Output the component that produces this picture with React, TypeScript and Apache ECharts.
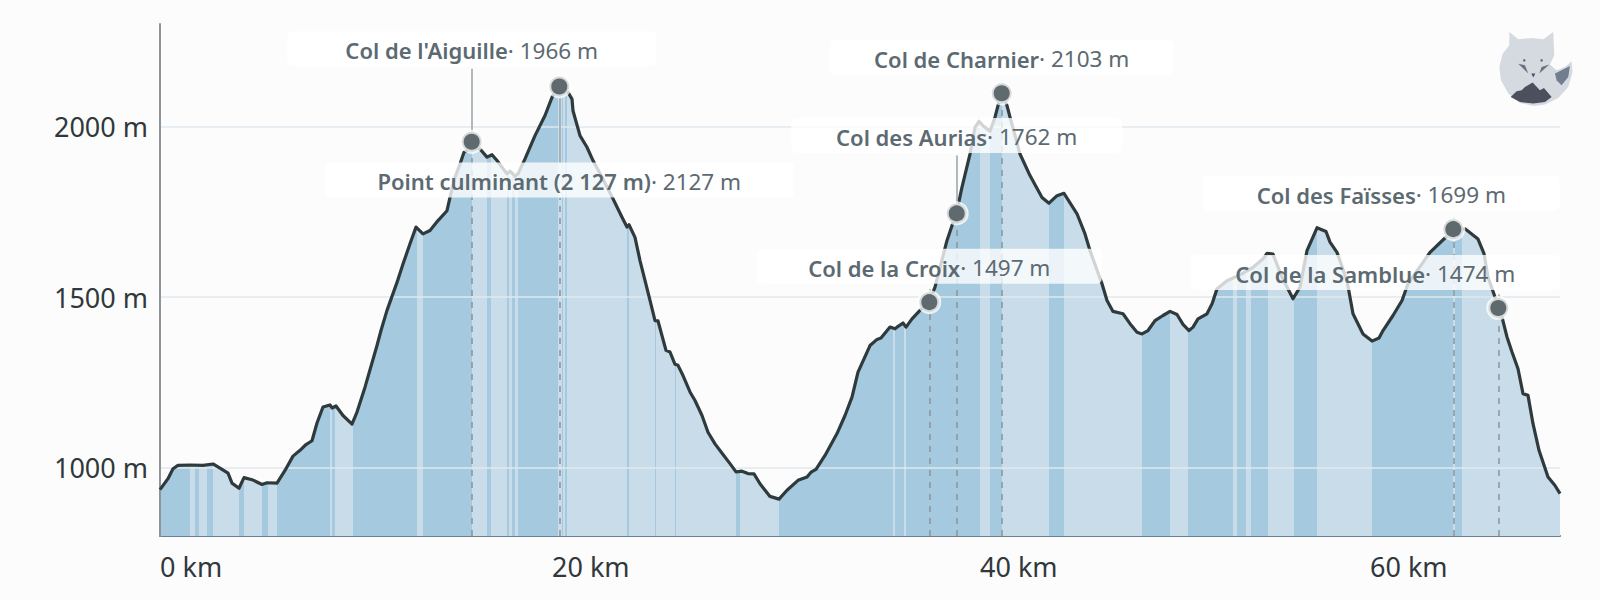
import React, { useEffect, useRef } from 'react';
import * as echarts from 'echarts';

// position along the profile (axis runs 0 - 1400, the km labels are not evenly spaced)
const trackPos = [
  0, 8, 13, 18, 30, 43, 53, 62, 68, 72, 79, 84, 92, 102, 107, 117, 125, 133, 140, 146,
  152, 157, 163, 170, 172, 176, 183, 192, 197, 205, 217, 221, 227, 237, 243, 250, 256, 263, 270, 278,
  287, 290, 295, 300, 304, 312, 320, 327, 332, 337, 347, 350, 355, 358, 365, 375, 385, 392, 399, 408,
  412, 413, 420, 427, 433, 442, 453, 462, 467, 469, 475, 480, 490, 495, 498, 506, 510, 515, 518, 523,
  530, 535, 542, 548, 555, 563, 570, 576, 582, 588, 594, 600, 610, 619, 627, 638, 647, 651, 656, 665,
  677, 685, 692, 698, 710, 717, 721, 730, 735, 737, 743, 746, 752, 760, 769, 775, 787, 797, 802, 810,
  815, 819, 823, 830, 835, 838, 842, 847, 850, 860, 870, 882, 889, 897, 904, 917, 925, 930, 942, 947,
  953, 963, 970, 977, 982, 988, 995, 1003, 1010, 1017, 1023, 1029, 1033, 1038, 1047, 1052, 1057, 1067, 1080, 1093,
  1103, 1107, 1113, 1122, 1133, 1140, 1147, 1157, 1166, 1170, 1177, 1187, 1193, 1203, 1212, 1219, 1223, 1233, 1242, 1248,
  1270, 1285, 1293, 1305, 1318, 1324, 1328, 1335, 1338, 1342, 1347, 1352, 1358, 1363, 1368, 1373, 1379, 1388, 1395, 1400,
];
const elevation = [
  936, 968, 997, 1007, 1008, 1007, 1011, 995, 984, 955, 940, 971, 965, 951, 956, 955, 992, 1034, 1051, 1068,
  1079, 1131, 1178, 1184, 1175, 1181, 1153, 1128, 1163, 1236, 1358, 1402, 1461, 1543, 1597, 1656, 1705, 1685, 1695, 1724,
  1753, 1792, 1851, 1890, 1924, 1939, 1934, 1910, 1917, 1900, 1861, 1869, 1854, 1861, 1905, 1973, 2032, 2085, 2119, 2100,
  2080, 2046, 1973, 1939, 1900, 1851, 1788, 1734, 1705, 1712, 1675, 1607, 1490, 1431, 1430, 1344, 1339, 1303, 1300, 1270,
  1222, 1197, 1153, 1104, 1070, 1039, 1012, 988, 990, 983, 982, 953, 916, 908, 934, 963, 973, 987, 995, 1036,
  1100, 1153, 1207, 1280, 1358, 1376, 1380, 1412, 1407, 1412, 1424, 1412, 1436, 1461, 1485, 1529, 1666, 1753, 1822, 1919,
  1997, 2015, 2002, 1986, 2027, 2061, 2095, 2061, 2027, 1919, 1856, 1792, 1775, 1797, 1804, 1744, 1685, 1636, 1539, 1490,
  1458, 1451, 1422, 1397, 1392, 1402, 1431, 1446, 1458, 1449, 1420, 1402, 1412, 1436, 1451, 1480, 1524, 1548, 1565, 1587,
  1612, 1628, 1626, 1558, 1495, 1529, 1636, 1703, 1692, 1661, 1631, 1548, 1451, 1392, 1371, 1380, 1402, 1446, 1490, 1539,
  1631, 1673, 1695, 1700, 1670, 1627, 1558, 1500, 1469, 1441, 1383, 1339, 1290, 1217, 1212, 1129, 1051, 973, 948, 924,
];

// stretches of the track drawn in the darker blue
const climbBands = [
  [0, 30], [35, 39.3], [46.7, 52.7], [78.7, 83.7], [102, 108], [116.7, 170], [172.3, 175.3], [193.3, 257.3],
  [262.7, 311.7], [326.7, 331], [347.3, 349], [352, 355], [357.7, 398.3], [402.3, 403.3], [405, 406.7], [466.7, 469.3],
  [495, 495.7], [515.3, 516], [576, 580], [619.3, 733.3], [735, 744], [746, 820], [830, 841.7], [889.3, 904],
  [982, 1010], [1028.3, 1073.3], [1076.7, 1086], [1090.7, 1108], [1133.7, 1156.7], [1212.3, 1293.3], [1295, 1301.7],
];

const xTickPos = [0, 392, 820, 1210];
const xTickLabels = ['0 km', '20 km', '40 km', '60 km'];
const yTicks = [1000, 1500, 2000];

const passNames = ["Col de l'Aiguille", 'Point culminant (2 127 m)', 'Col de Charnier', 'Col des Aurias', 'Col de la Croix', 'Col des Faïsses', 'Col de la Samblue'];
const passAltitudes = [1966, 2127, 2103, 1762, 1497, 1699, 1474];
const passPos = [311.7, 399.3, 841.7, 796.7, 769.3, 1293.3, 1338.3];
const passDotElevation = [1955, 2117, 2097, 1745, 1485, 1699, 1468];
// leader above / beside each point: [from, to] in metres, solid when long
const passLeaders = [[1975, 2169], [1893, 2117], [2110, 2143], [1765, 1915], [1505, 1528], [1715, 1745], [1490, 1516]];
const passDashTop = [1955, 1790, 2097, 1745, 1485, 1699, 1468];
const passLeaderSolid = [true, true, false, true, false, false, false];

// label boxes: offset from the point, width
const passLabelOffsets = [[0, -93], [0, 93.5], [0, -36], [0, -78], [0, -36], [-72, -36], [-123, -35.5]];
const passLabelWidths = [369, 469, 344, 331, 345, 357, 370];

const App: React.FC = () => {
  const chartRef = useRef<HTMLDivElement>(null);

  useEffect(() => {
    if (!chartRef.current) return;

    const myChart = echarts.init(chartRef.current, undefined, { renderer: 'svg' });
    const font = '"Noto Sans", sans-serif';
    const points = trackPos.map((p, i) => [p, elevation[i]]);

    const leaderLines: any[] = [];
    passPos.forEach((p, i) => {
      leaderLines.push([
        { coord: [p, 800], lineStyle: { type: [6, 6], color: '#8a9499', width: 1.5 } },
        { coord: [p, passDashTop[i]] },
      ]);
      leaderLines.push([
        {
          coord: [p, passLeaders[i][0]],
          lineStyle: passLeaderSolid[i]
            ? { type: 'solid', color: '#9aa3a7', width: 1.5 }
            : { type: [6, 6], color: '#8a9499', width: 1.5 },
        },
        { coord: [p, passLeaders[i][1]] },
      ]);
    });

    const option: any = {
      animation: false,
      backgroundColor: '#fcfcfc',
      grid: { left: 160, right: 40, top: 24, bottom: 64 },
      xAxis: {
        type: 'value',
        min: 0,
        max: 1400,
        splitLine: { show: false },
        axisLine: { lineStyle: { color: '#6f7f8c', width: 2 } },
        axisTick: { show: false, customValues: xTickPos },
        axisLabel: {
          customValues: xTickPos,
          formatter: (v: number) => xTickLabels[xTickPos.indexOf(v)],
          align: 'left',
          margin: 17,
          fontSize: 27,
          fontFamily: font,
          color: '#30383b',
        },
      },
      yAxis: {
        type: 'value',
        min: 800,
        max: 2300,
        z: 4,
        axisLine: { show: true, lineStyle: { color: '#8e9598', width: 2 } },
        axisTick: { show: false, customValues: yTicks },
        splitLine: { show: true, lineStyle: { color: '#e0e8ee', width: 1.5 } },
        axisLabel: {
          customValues: yTicks,
          formatter: (v: number) => `${v} m`,
          margin: 12,
          fontSize: 27,
          fontFamily: font,
          color: '#30383b',
        },
      },
      visualMap: {
        show: false,
        type: 'piecewise',
        dimension: 0,
        seriesIndex: 0,
        pieces: climbBands.map(([from, to]) => ({ gt: from, lte: to, color: '#a5c9de' })),
        outOfRange: { color: '#c8dde9' },
      },
      series: [
        // coloured area only
        {
          type: 'line',
          data: points,
          z: 2,
          symbol: 'none',
          lineStyle: { width: 0 },
          areaStyle: { opacity: 1 },
          silent: true,
        },
        // profile line
        {
          type: 'line',
          data: points,
          z: 6,
          symbol: 'none',
          color: '#2f3a3c',
          lineStyle: { width: 3.2, color: '#2f3a3c', join: 'round' },
          silent: true,
          markLine: {
            z: 7,
            silent: true,
            symbol: ['none', 'none'],
            label: { show: false },
            data: leaderLines,
          },
        },
        // passes
        {
          type: 'scatter',
          z: 10,
          symbolSize: 20,
          silent: true,
          itemStyle: { color: '#5f6a6f', borderColor: 'rgba(255,255,255,0.75)', borderWidth: 4, opacity: 1 },
          data: passNames.map((name, i) => ({
            value: [passPos[i], passDotElevation[i]],
            name,
            label: {
              show: true,
              position: 'inside',
              align: 'center',
              verticalAlign: 'middle',
              offset: passLabelOffsets[i],
              width: passLabelWidths[i],
              height: 32,
              padding: [3, 0, 0, 0],
              lineHeight: 32,
              backgroundColor: 'rgba(255,255,255,0.78)',
              borderRadius: 5,
              formatter: `{b|${name}}{n|· ${passAltitudes[i]} m}`,
              rich: {
                b: { align: 'center', fontFamily: font, fontSize: 22, fontWeight: 600, color: '#5c6a72', lineHeight: 32 },
                n: { align: 'center', fontFamily: font, fontSize: 22.5, fontWeight: 400, color: '#5c6a72', lineHeight: 32 },
              },
            },
          })),
        },
      ],
      // fox logo, traced in a 270x270 box
      graphic: [
        {
          type: 'group',
          x: 1490,
          y: 22,
          scaleX: 1 / 3,
          scaleY: 1 / 3,
          z: 20,
          silent: true,
          children: [
            {
              type: 'polygon',
              shape: { points: [[58, 30], [85, 52], [125, 48], [160, 52], [190, 30], [193, 100], [180, 128], [200, 145], [225, 135], [245, 118], [248, 150], [235, 195], [205, 228], [165, 248], [130, 252], [90, 243], [55, 215], [33, 175], [28, 135], [38, 95], [58, 70]] },
              style: { fill: '#d5d9e0' },
            },
            {
              type: 'polygon',
              shape: { points: [[195, 155], [240, 132], [235, 165], [215, 190], [200, 175]] },
              style: { fill: '#737d90' },
            },
            {
              type: 'polygon',
              shape: { points: [[62, 225], [80, 208], [95, 205], [105, 195], [128, 182], [150, 205], [162, 198], [185, 225], [165, 240], [130, 245], [90, 240]] },
              style: { fill: '#4c505e' },
            },
            { type: 'polygon', shape: { points: [[85, 125], [105, 130], [115, 155]] }, style: { fill: '#6a7080' } },
            { type: 'polygon', shape: { points: [[178, 128], [155, 135], [148, 155]] }, style: { fill: '#6a7080' } },
            { type: 'polygon', shape: { points: [[124, 155], [136, 155], [130, 167]] }, style: { fill: '#4c505e' } },
            { type: 'circle', shape: { cx: 103, cy: 115, r: 4 }, style: { fill: '#6a7080' } },
            { type: 'circle', shape: { cx: 155, cy: 115, r: 4 }, style: { fill: '#6a7080' } },
          ],
        },
      ],
    };

    myChart.setOption(option);

    return () => {
      myChart.dispose();
    };
  }, []);

  return (
    <div
      ref={chartRef}
      style={{ position: 'fixed', left: 0, top: 0, width: '1600px', height: '600px' }}
    />
  );
};

export default App;
